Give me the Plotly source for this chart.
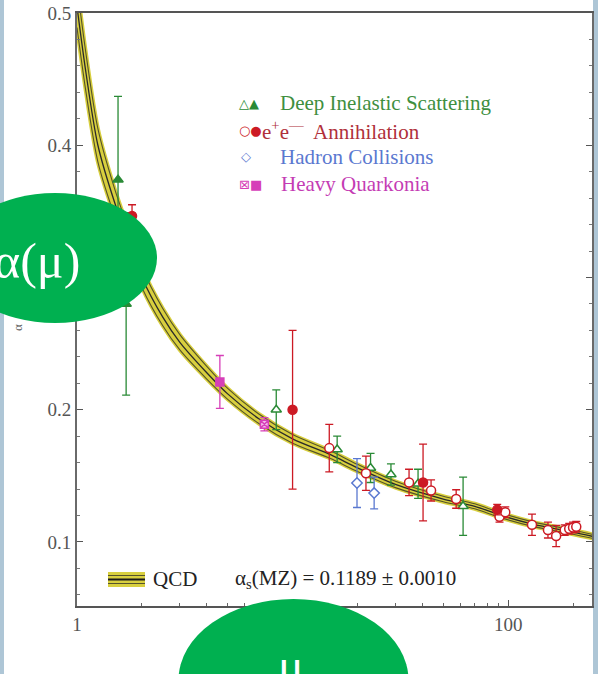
import plotly.graph_objects as go

# ---------------- data ----------------
# QCD running-coupling curve (central value) and half-width of the drawn band
QCD_MU = [1.0, 1.1, 1.25, 1.5, 1.75, 2.0, 2.5, 3.0, 4.0, 5.0, 7.0, 10, 15, 20, 30, 50, 70, 91.2, 130, 200, 250]
QCD_ALPHA = [0.505, 0.455, 0.400, 0.356, 0.326, 0.300, 0.270, 0.251, 0.228, 0.212, 0.193, 0.178,
             0.166, 0.156, 0.1435, 0.1325, 0.127, 0.1205, 0.1135, 0.1075, 0.104]
QCD_DELTA = [0.016, 0.0145, 0.0125, 0.0102, 0.0087, 0.0075, 0.0065, 0.0058, 0.0048, 0.0041, 0.0036, 0.0033,
             0.0029, 0.0027, 0.0024, 0.0021, 0.0019, 0.0018, 0.0017, 0.0016, 0.0015]

# Deep inelastic scattering
DIS_FILLED_MU = [1.55, 1.69]
DIS_FILLED_A = [0.374, 0.280]
DIS_FILLED_ERR = [0.063, 0.069]
DIS_OPEN_MU = [8.4, 16.1, 23.0, 28.6, 38.2, 61.8]
DIS_OPEN_A = [0.200, 0.170, 0.156, 0.151, 0.144, 0.127]
DIS_OPEN_ERR = [0.015, 0.010, 0.011, 0.008, 0.011, 0.022]

# e+e- annihilation
EE_FILLED_MU = [1.8, 10.0, 40.3, 89.0]
EE_FILLED_A = [0.3465, 0.200, 0.145, 0.1245]
EE_FILLED_ERR = [0.0085, 0.060, 0.029, 0.004]
EE_OPEN_MU = [14.8, 21.9, 34.7, 43.9, 57.4, 91.2, 97, 129, 153, 167, 183, 192, 200, 207]
EE_OPEN_A = [0.171, 0.152, 0.145, 0.139, 0.1325, 0.119, 0.1225, 0.113, 0.109, 0.1045, 0.109, 0.110, 0.111, 0.1115]
EE_OPEN_ERR = [0.018, 0.013, 0.010, 0.008, 0.007, 0.004, 0.004, 0.008, 0.006, 0.008, 0.004, 0.004, 0.004, 0.004]

# Hadron collisions
HC_MU = [19.9, 23.9]
HC_A = [0.1446, 0.137]
HC_ERR = [0.0185, 0.012]

# Heavy quarkonia
HQ_FILLED_MU = [4.6]
HQ_FILLED_A = [0.221]
HQ_FILLED_ERR = [0.020]
HQ_OPEN_MU = [7.4]
HQ_OPEN_A = [0.189]
HQ_OPEN_ERR = [0.005]

# axes
X_TICKS = [1, 10, 100]
X_TICK_TEXT = ["1", "10", "100"]
Y_TICKS = [0.1, 0.2, 0.3, 0.4, 0.5]
Y_TICK_TEXT = ["0.1", "0.2", "0.3", "0.4", "0.5"]

LEGEND_SYMBOLS = ["△▲", "○●", "◇", "⊠■"]
LEGEND_LABELS = ["Deep Inelastic Scattering", "e<sup>+</sup>e<sup>—</sup>  Annihilation",
                 "Hadron Collisions", "Heavy Quarkonia"]
QCD_LABEL = "QCD"
QCD_NOTE = "α<sub>s</sub>(MZ) = 0.1189 ± 0.0010"
LEFT_BUBBLE = "α(μ)"
BOTTOM_BUBBLE = "μ"

# ---------------- styling ----------------
W, H = 598, 674
L, R, T, B = 77, 6, 13, 68
PW, PH = W - L - R, H - T - B


def px(x):
    return (x - L) / PW


def py(y):
    return (H - B - y) / PH


SERIF = "Liberation Serif"
GREEN = "#2a8a36"
RED = "#cc1a24"
BLUE = "#5a78d0"
MAGENTA = "#d63fb8"
YEL = "#d8cf3e"
DARK = "#55532a"
BUBBLE = "#00b050"

fig = go.Figure()

# QCD band: yellow fill between upper/lower edges, dark edge lines, dark central line
upper = [a + d for a, d in zip(QCD_ALPHA, QCD_DELTA)]
lower = [a - d for a, d in zip(QCD_ALPHA, QCD_DELTA)]
spl = dict(shape="spline", smoothing=0.8)
for edge in (upper, lower):
    fig.add_trace(go.Scatter(x=QCD_MU, y=edge, mode="lines", line=dict(color=YEL, width=4, **spl),
                             hoverinfo="skip", showlegend=False))
fig.add_trace(go.Scatter(x=QCD_MU, y=lower, mode="lines", line=dict(color=DARK, width=1.1, **spl),
                         hoverinfo="skip", showlegend=False))
fig.add_trace(go.Scatter(x=QCD_MU, y=upper, mode="lines", line=dict(color=DARK, width=1.1, **spl),
                         fill="tonexty", fillcolor=YEL, hoverinfo="skip", showlegend=False))
fig.add_trace(go.Scatter(x=QCD_MU, y=QCD_ALPHA, mode="lines", line=dict(color="#2a2a2a", width=1.3, **spl),
                         hoverinfo="skip", showlegend=False))


def points(mu, a, err, symbol, color, fill, size=9):
    fig.add_trace(go.Scatter(
        x=mu, y=a, mode="markers",
        marker=dict(symbol=symbol, size=size, color=fill, line=dict(color=color, width=1.5)),
        error_y=dict(type="data", array=err, color=color, thickness=1.3, width=4),
        showlegend=False))


points(DIS_FILLED_MU, DIS_FILLED_A, DIS_FILLED_ERR, "triangle-up", GREEN, GREEN)
points(HQ_FILLED_MU, HQ_FILLED_A, HQ_FILLED_ERR, "square", MAGENTA, MAGENTA, 8)
points(HQ_OPEN_MU, HQ_OPEN_A, HQ_OPEN_ERR, "square-x", MAGENTA, "#f3b8ea", 8)
points(DIS_OPEN_MU, DIS_OPEN_A, DIS_OPEN_ERR, "triangle-up", GREEN, "white")
points(HC_MU, HC_A, HC_ERR, "diamond", BLUE, "white", 8)
points(EE_OPEN_MU, EE_OPEN_A, EE_OPEN_ERR, "circle", RED, "white")
points(EE_FILLED_MU, EE_FILLED_A, EE_FILLED_ERR, "circle", RED, RED)

shapes = [
    # white page area
    dict(type="rect", xref="paper", yref="paper", x0=px(4), x1=px(593), y0=py(H + 5), y1=py(-5),
         fillcolor="white", line=dict(width=0), layer="below"),
    # QCD legend key
    dict(type="rect", xref="paper", yref="paper", x0=px(108), x1=px(145), y0=py(587), y1=py(572),
         fillcolor=YEL, line=dict(width=0), layer="above"),
    dict(type="line", xref="paper", yref="paper", x0=px(108), x1=px(145), y0=py(575.5), y1=py(575.5),
         line=dict(color=DARK, width=1), layer="above"),
    dict(type="line", xref="paper", yref="paper", x0=px(108), x1=px(145), y0=py(583.5), y1=py(583.5),
         line=dict(color=DARK, width=1), layer="above"),
    dict(type="line", xref="paper", yref="paper", x0=px(108), x1=px(145), y0=py(579.5), y1=py(579.5),
         line=dict(color="#1a1a1a", width=2), layer="above"),
    # green bubbles
    dict(type="circle", xref="paper", yref="paper", x0=px(-47), x1=px(157), y0=py(323), y1=py(193),
         fillcolor=BUBBLE, line=dict(width=0), layer="above"),
    dict(type="circle", xref="paper", yref="paper", x0=px(178.5), x1=px(408.5), y0=py(761), y1=py(599),
         fillcolor=BUBBLE, line=dict(width=0), layer="above"),
]

annotations = []


def ann(text, x, y, size, color, xanchor="left", family=SERIF, **kw):
    annotations.append(dict(text=text, x=px(x), y=py(y), xref="paper", yref="paper",
                            xanchor=xanchor, yanchor="middle", showarrow=False,
                            font=dict(family=family, size=size, color=color), **kw))


row_y = [103, 130, 157, 184]
sym_cols = [GREEN, RED, BLUE, MAGENTA]
txt_cols = ["#3f8f3f", "#b0303a", "#5a78d0", "#c43cb4"]
txt_x = [278, 260, 278, 279]
sym_x = [237, 237, 239, 237]
for s, lab, yy, sc, tc, tx, sx in zip(LEGEND_SYMBOLS, LEGEND_LABELS, row_y, sym_cols, txt_cols, txt_x, sym_x):
    ann(s, sx, yy, 13, sc, family="DejaVu Sans")
    ann(lab, tx, yy, 21, tc)

ann(QCD_LABEL, 151, 579, 21, "#222222")
ann(QCD_NOTE, 233, 579, 21, "#222222")
ann("α", 17, 328, 13, "#666666", xanchor="center", textangle=-90)
ann(LEFT_BUBBLE, 37, 260.6, 50, "white", xanchor="center")
ann(BOTTOM_BUBBLE, 291, 665, 48, "white", xanchor="center")

fig.update_layout(
    width=W, height=H, autosize=False,
    margin=dict(l=L, r=R, t=T, b=B, pad=0, autoexpand=False),
    paper_bgcolor="#aec6d6", plot_bgcolor="white",
    showlegend=False,
    shapes=shapes, annotations=annotations,
    xaxis=dict(type="log", range=[0, 2.389], showgrid=False, zeroline=False, automargin=False,
               showline=True, linecolor="#555555", linewidth=2, mirror=True,
               ticks="inside", ticklen=6, tickwidth=1.3, tickcolor="#555555",
               tickvals=X_TICKS, ticktext=X_TICK_TEXT,
               tickfont=dict(family=SERIF, size=19, color="#555555"),
               minor=dict(dtick="D1", ticks="inside", ticklen=3, tickcolor="#666666", showgrid=False)),
    yaxis=dict(range=[0.0516, 0.5], showgrid=False, zeroline=False, automargin=False,
               showline=True, linecolor="#6a6a6a", linewidth=2, mirror="ticks",
               ticks="inside", ticklen=6, tickwidth=1.3, tickcolor="#555555",
               tickvals=Y_TICKS, ticktext=Y_TICK_TEXT,
               tickfont=dict(family=SERIF, size=19, color="#555555"),
               minor=dict(dtick=0.02, ticks="inside", ticklen=3, tickcolor="#777777", showgrid=False)),
)

fig.write_html("out.html", config={"displayModeBar": False},
               post_script="document.body.style.margin='0';document.body.style.padding='0';"
                           "document.documentElement.style.overflow='hidden';")
